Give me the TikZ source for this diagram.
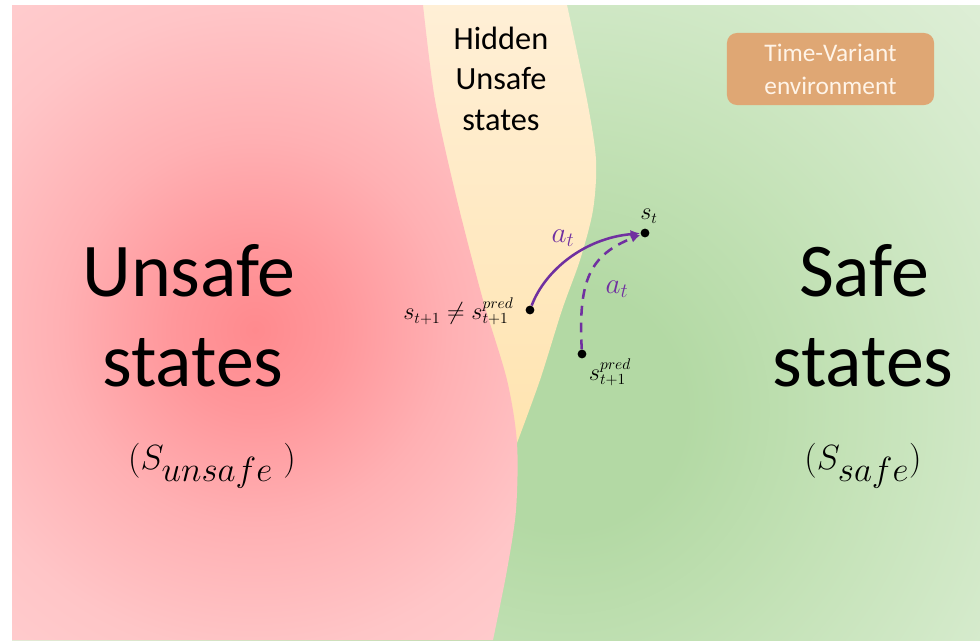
\documentclass[tikz,border=0pt]{standalone}
\usepackage{fontspec}
\setmainfont{Carlito}
\usepackage{tikz}
\usetikzlibrary{arrows.meta,positioning}
\definecolor{redcore}{HTML}{FF8A8E}
\definecolor{redinner}{HTML}{FF979B}
\definecolor{redmid}{HTML}{FFB0B3}
\definecolor{redpale}{HTML}{FFC5C7}
\definecolor{rededge}{HTML}{FFD4D5}
\definecolor{greencore}{HTML}{B3D9A4}
\definecolor{greenmid}{HTML}{C4E2B7}
\definecolor{greenpale}{HTML}{D6EBCD}
\definecolor{greenedge}{HTML}{E3F0DC}
\definecolor{hiddentop}{HTML}{FFEFD6}
\definecolor{hiddenbot}{HTML}{FFE4B0}
\definecolor{envfill}{HTML}{DFA774}
\definecolor{envtext}{HTML}{FFF4E8}
\definecolor{action}{HTML}{7030A0}
\pgfdeclareradialshading{redglow}{\pgfpoint{0bp}{0bp}}{color(0bp)=(redcore); color(4.5bp)=(redinner); color(10.5bp)=(redmid); color(17.5bp)=(redpale); color(28bp)=(rededge); color(50bp)=(rededge)}
\pgfdeclareradialshading{greenglow}{\pgfpoint{0bp}{0bp}}{color(0bp)=(greencore); color(5bp)=(greencore); color(12bp)=(greenmid); color(20bp)=(greenpale); color(27bp)=(greenedge); color(50bp)=(greenedge)}

\begin{document}
\begin{tikzpicture}[x=0.025cm,y=-0.025cm,
 dot/.style={circle,fill=black,inner sep=0pt,minimum size=2.2mm},
 region/.style={anchor=base,font=\fontsize{54}{64}\selectfont},
 hidden/.style={anchor=base,font=\fontsize{23}{29}\selectfont},
 setname/.style={anchor=base,font=\fontsize{33}{40}\selectfont},
 lbl/.style={inner sep=1pt,font=\fontsize{16}{19}\selectfont},
 actlbl/.style={inner sep=1pt,text=action,font=\fontsize{20}{24}\selectfont},
 envbox/.style={fill=envfill,rounded corners=7pt,text=envtext,align=center,minimum width=5.175cm,minimum height=1.8cm,font=\fontsize{18}{23.5}\selectfont},
 act/.style={-{Latex[length=7pt,width=6pt]},draw=action,line width=1.8pt}]
\useasboundingbox (0,0) rectangle (980,640);
\fill[white] (0,0) rectangle (980,640);
\begin{scope}
  \clip (12,5) rectangle (980,640);
  \shade[shading=greenglow] (565,410) circle (15cm);
\end{scope}
\shade[top color=hiddentop,bottom color=hiddenbot] (400,5) -- plot[smooth] coordinates {(567,5) (587,100) (596,160) (593,210) (580,260) (562,310) (540,380) (517,443)} -- (400,443) -- cycle;
\begin{scope}
  \clip (12,5) -- plot[smooth] coordinates {(423,5) (435,100) (457,200) (483,300) (507,380) (517,443) (516,510) (507,570) (493,640)} -- (12,640) -- cycle;
  \shade[shading=redglow] (255,330) circle (11.5cm);
\end{scope}

\node[region] (unsafe) at (189,296) {Unsafe};
\node[region] (unsafestates) at (193,386) {states};
\node[setname] (sunsafe) at (212,469) {$(S_{unsafe}\ )$};
\node[region] (safe) at (864,296) {Safe};
\node[region] (safestates) at (863,386) {states};
\node[setname] (ssafe) at (863,469) {$(S_{safe})$};
\node[hidden] (hid1) at (501,49) {Hidden};
\node[hidden] (hid2) at (501,89) {Unsafe};
\node[hidden] (hid3) at (501,130) {states};
\node[envbox] (env) at (830.5,69) {Time-Variant\\environment};

\node[dot] (st) at (645,233) {};
\node[dot] (snext) at (530,310) {};
\node[dot] (spred) at (582,354) {};
\node[lbl] (stlbl) at (649,216) {$s_t$};
\node[lbl,left=2.5mm of snext,yshift=-1pt] (snextlbl) {$s_{t+1}\neq s_{t+1}^{pred}$};
\node[lbl] (spredlbl) at (610,372) {$s_{t+1}^{pred}$};
\draw[act] (snext) .. controls (545,270) and (585,238) .. (st);
\draw[act,dash pattern=on 7pt off 5pt] (spred) .. controls (578,280) and (590,255) .. (st);
\node[actlbl] (at1) at (563,238) {$a_t$};
\node[actlbl] (at2) at (617,289) {$a_t$};
\end{tikzpicture}
\end{document}
